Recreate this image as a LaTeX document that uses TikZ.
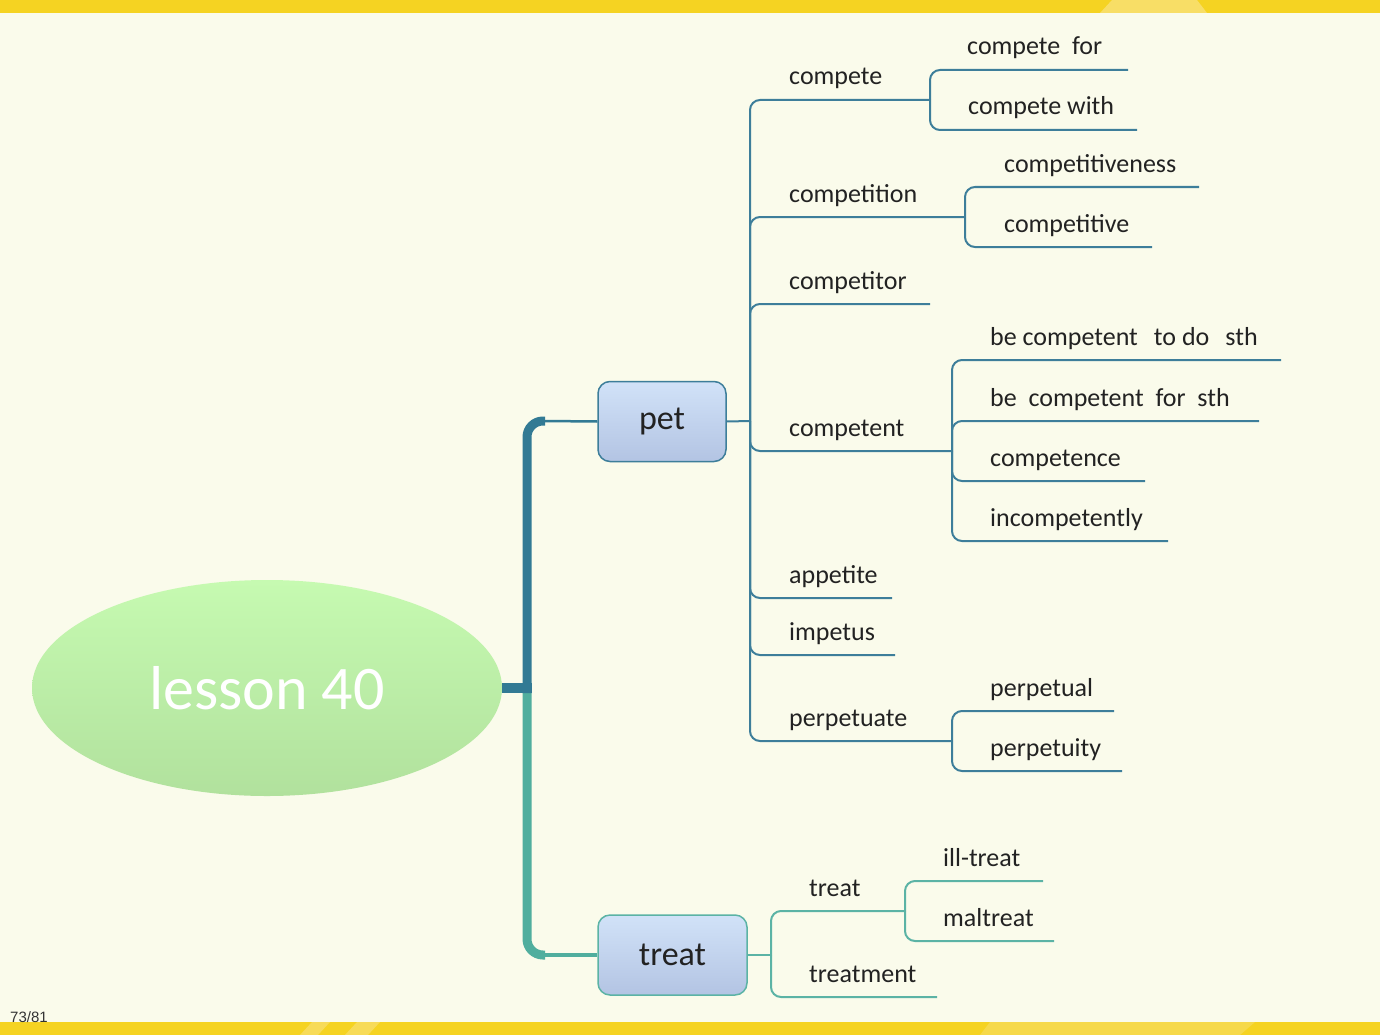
\documentclass[tikz,border=0pt]{standalone}
\usepackage{fontspec}
\setmainfont{Carlito}
\newfontfamily\arialf{Liberation Sans}
\usetikzlibrary{shapes.geometric}
\definecolor{bgc}{HTML}{FAFBEB}
\definecolor{barc}{HTML}{F5D322}
\definecolor{barl}{HTML}{F8DE66}
\definecolor{trunkup}{HTML}{327A94}
\definecolor{trunklo}{HTML}{50AE9E}
\definecolor{petln}{HTML}{3D7E9A}
\definecolor{trtln}{HTML}{5BB3A5}
\definecolor{txt}{HTML}{222222}
\definecolor{boxtop}{HTML}{D1E2F8}
\definecolor{boxbot}{HTML}{B3C4E3}
\definecolor{elltop}{HTML}{C6FAB1}
\definecolor{ellbot}{HTML}{B1E19D}
\tikzset{
  lbl/.style={anchor=base west, inner sep=0pt, text=txt, font=\fontsize{26}{30}\selectfont},
  petl/.style={draw=petln, line width=2pt, rounded corners=10pt},
  trtl/.style={draw=trtln, line width=2pt, rounded corners=10pt},
  mainbox/.style={rectangle, rounded corners=12pt, line width=1.5pt, minimum width=#1, minimum height=80pt, top color=boxtop, bottom color=boxbot, text=txt, font=\fontsize{34}{38}\selectfont, inner sep=0pt},
}
\begin{document}
\begin{tikzpicture}[x=1pt,y=-1pt]
\useasboundingbox (0,0) rectangle (1380,1035);
\fill[bgc] (0,0) rectangle (1380,1035);
% bars
\fill[barc] (0,0) rectangle (1380,13);
\fill[barl] (1100,13) -- (1112,0) -- (1197,0) -- (1207,13) -- cycle;
\fill[barc] (0,1022) rectangle (1380,1035);
\fill[barl, opacity=0.6] (980,1035) -- (990,1022) -- (1255,1022) -- (1240,1035) -- cycle;
\fill[barl, opacity=0.8] (300,1035) -- (312,1022) -- (330,1022) -- (318,1035) -- cycle;
\fill[barl, opacity=0.8] (345,1035) -- (357,1022) -- (380,1022) -- (368,1035) -- cycle;
\node[anchor=base west, inner sep=0pt, text=black!80, font=\arialf\fontsize{15}{17}\selectfont] (pg) at (10,1022) {73/81};

% root
\node[ellipse, minimum width=470pt, minimum height=216pt, top color=elltop, bottom color=ellbot, text=white, font=\fontsize{62}{66}\selectfont, inner sep=0pt] (root) at (267,688) {lesson 40};

% main boxes
\node[mainbox=128pt, draw=petln] (pet) at (662,421.5) {pet};
\node[mainbox=149pt, draw=trtln] (treat) at (672.5,955) {treat};

% trunk
\coordinate (pk) at (545,421);
\coordinate (tk) at (545,955);
\coordinate (rj) at (531.5,688);
\draw[trunklo, line width=9pt, rounded corners=16pt] (527,692) -- (527,955) -- (tk);
\draw[trunklo, line width=4.5pt] (tk) -- (treat.west);
\draw[trunkup, line width=9pt, rounded corners=16pt] (527,693) -- (527,421) -- (pk);
\draw[trunkup, line width=2.5pt] (pk) -- (pet.west);
\draw[trunkup, line width=10pt] (root.east) -- (rj);

% pet subtree
\coordinate (pj) at (750,421);
\draw[petl] (pet.east) -- (pj);
\foreach \nm/\y/\xe/\t in {c1/100/930/compete, c2/217/965/competition, c3/304/930/competitor, c4/451/952/competent, c5/598/892/appetite, c6/655/895/impetus, c7/741/952/perpetuate}{
  \coordinate (\nm) at (\xe,\y);
  \node[lbl] (\nm t) at (789,\y-15) {\t};
  \draw[petl] (pj) |- (\nm);
}
% level 3
\foreach \nm/\y/\xe/\xt/\t in {d1/70/1128/967/{compete\ \ for}, d2/130/1137/968/{compete with}}{
  \coordinate (\nm) at (\xe,\y);
  \node[lbl] (\nm t) at (\xt,\y-15) {\t};
  \draw[petl] (c1) |- (\nm);
}
\foreach \nm/\y/\xe/\t in {e1/187/1199/competitiveness, e2/247/1152/competitive}{
  \coordinate (\nm) at (\xe,\y);
  \node[lbl] (\nm t) at (1004,\y-15) {\t};
  \draw[petl] (c2) |- (\nm);
}
\foreach \nm/\y/\xe/\t in {f1/360/1281/{be competent\ \ \,to do\ \ \,sth}, f2/421/1259/{be\ \ competent\ \ for\ \ sth}, f3/481/1145/competence, f4/541/1168/incompetently}{
  \coordinate (\nm) at (\xe,\y);
  \node[lbl] (\nm t) at (990,\y-15) {\t};
  \draw[petl] (c4) |- (\nm);
}
\foreach \nm/\y/\xe/\t in {g1/711/1114/perpetual, g2/771/1122/perpetuity}{
  \coordinate (\nm) at (\xe,\y);
  \node[lbl] (\nm t) at (990,\y-15) {\t};
  \draw[petl] (c7) |- (\nm);
}

% treat subtree
\coordinate (tj) at (771,955);
\draw[trtl] (treat.east) -- (tj);
\foreach \nm/\y/\xe/\t in {h1/911/905/treat, h2/997/937/treatment}{
  \coordinate (\nm) at (\xe,\y);
  \node[lbl] (\nm t) at (809,\y-15) {\t};
  \draw[trtl] (tj) |- (\nm);
}
\foreach \nm/\y/\xe/\t in {k1/881/1043/ill-treat, k2/941/1054/maltreat}{
  \coordinate (\nm) at (\xe,\y);
  \node[lbl] (\nm t) at (943,\y-15) {\t};
  \draw[trtl] (h1) |- (\nm);
}
\end{tikzpicture}
\end{document}
